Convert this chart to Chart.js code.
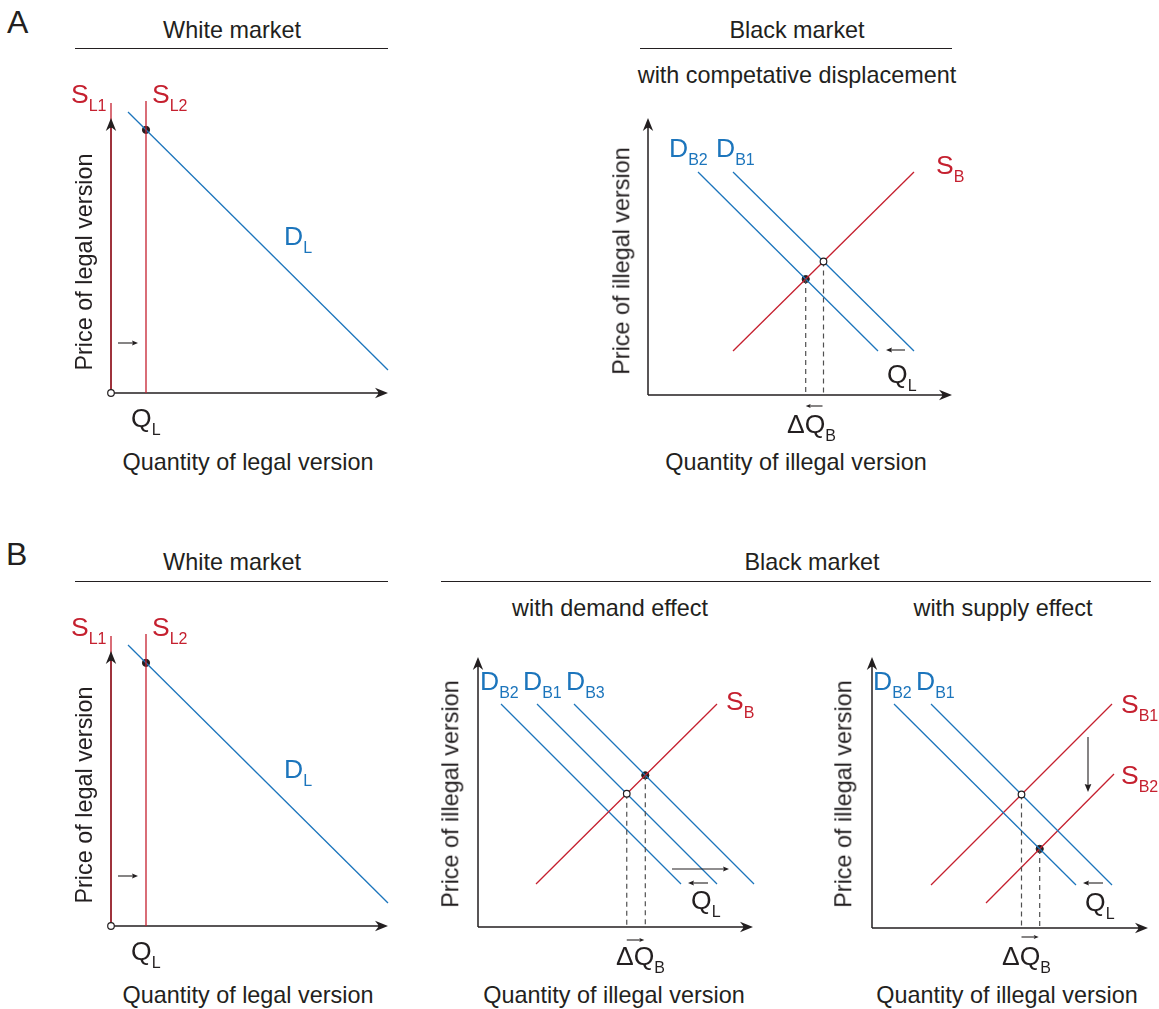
<!DOCTYPE html>
<html><head><meta charset="utf-8">
<script src="https://cdn.jsdelivr.net/npm/chart.js@4.4.1/dist/chart.umd.min.js"></script>
<style>
html,body{margin:0;padding:0;background:#fff;}
body{width:1159px;height:1009px;position:relative;overflow:hidden;font-family:"Liberation Sans",Arial,Helvetica,sans-serif;color:#231f20;}
canvas{position:absolute;z-index:1;}
.t{position:absolute;white-space:nowrap;line-height:1;font-size:23.4px;z-index:2;}
.c{transform:translateX(-50%);}
.rot{transform:translate(-50%,-50%) rotate(-90deg);}
.hr{position:absolute;height:0;border-top:1.4px solid #231f20;z-index:2;}
.lab{position:absolute;white-space:nowrap;line-height:1;font-size:26.5px;z-index:2;}
.lab sub{font-size:16px;vertical-align:-8px;line-height:1;}
.red{color:#c5202f}.blue{color:#1c75bc}
.big{position:absolute;font-size:32px;line-height:1;z-index:2;}
</style></head><body>

<div class="big" style="left:7px;top:6px;">A</div>
<div class="big" style="left:6px;top:538px;">B</div>

<div class="t c" style="left:232px;top:19px;">White market</div>
<div class="hr" style="left:75px;top:48px;width:313px;"></div>
<div class="t c" style="left:797px;top:19px;">Black market</div>
<div class="hr" style="left:640px;top:48px;width:312px;"></div>
<div class="t c" style="left:797px;top:64px;">with competative displacement</div>

<div class="t c" style="left:232px;top:551px;">White market</div>
<div class="hr" style="left:75px;top:581px;width:313px;"></div>
<div class="t c" style="left:812px;top:551px;">Black market</div>
<div class="hr" style="left:441px;top:581px;width:710px;"></div>
<div class="t c" style="left:610px;top:597px;">with demand effect</div>
<div class="t c" style="left:1003px;top:597px;">with supply effect</div>

<div class="t rot" style="left:85px;top:262px;">Price of legal version</div>
<div class="t c" style="left:248px;top:451px;">Quantity of legal version</div>
<div class="t rot" style="left:622px;top:261px;">Price of illegal version</div>
<div class="t c" style="left:796px;top:451px;">Quantity of illegal version</div>
<div class="t rot" style="left:85px;top:795px;">Price of legal version</div>
<div class="t c" style="left:248px;top:984px;">Quantity of legal version</div>
<div class="t rot" style="left:451px;top:794px;">Price of illegal version</div>
<div class="t c" style="left:614px;top:984px;">Quantity of illegal version</div>
<div class="t rot" style="left:844px;top:794px;">Price of illegal version</div>
<div class="t c" style="left:1007px;top:984px;">Quantity of illegal version</div>

<!-- curve labels A -->
<div class="lab red" style="left:71px;top:81px;">S<sub>L1</sub></div>
<div class="lab red" style="left:152px;top:81px;">S<sub>L2</sub></div>
<div class="lab blue" style="left:284px;top:223px;">D<sub>L</sub></div>
<div class="lab" style="left:131px;top:405px;">Q<sub>L</sub></div>
<div class="lab blue" style="left:669px;top:135px;">D<sub>B2</sub></div>
<div class="lab blue" style="left:716px;top:135px;">D<sub>B1</sub></div>
<div class="lab red" style="left:936px;top:152px;">S<sub>B</sub></div>
<div class="lab" style="left:887px;top:361px;">Q<sub>L</sub></div>
<div class="lab" style="left:787px;top:411px;">ΔQ<sub>B</sub></div>
<!-- curve labels B -->
<div class="lab red" style="left:71px;top:614px;">S<sub>L1</sub></div>
<div class="lab red" style="left:152px;top:614px;">S<sub>L2</sub></div>
<div class="lab blue" style="left:284px;top:756px;">D<sub>L</sub></div>
<div class="lab" style="left:131px;top:938px;">Q<sub>L</sub></div>
<div class="lab blue" style="left:480px;top:668px;">D<sub>B2</sub></div>
<div class="lab blue" style="left:523px;top:668px;">D<sub>B1</sub></div>
<div class="lab blue" style="left:566px;top:668px;">D<sub>B3</sub></div>
<div class="lab red" style="left:726px;top:688px;">S<sub>B</sub></div>
<div class="lab" style="left:691px;top:887px;">Q<sub>L</sub></div>
<div class="lab" style="left:616px;top:943px;">ΔQ<sub>B</sub></div>
<div class="lab blue" style="left:873px;top:668px;">D<sub>B2</sub></div>
<div class="lab blue" style="left:916px;top:668px;">D<sub>B1</sub></div>
<div class="lab red" style="left:1121px;top:691px;">S<sub>B1</sub></div>
<div class="lab red" style="left:1121px;top:762px;">S<sub>B2</sub></div>
<div class="lab" style="left:1085px;top:889px;">Q<sub>L</sub></div>
<div class="lab" style="left:1002px;top:943px;">ΔQ<sub>B</sub></div>

<canvas id="aWhite"></canvas>
<canvas id="aBlack"></canvas>
<canvas id="bWhite"></canvas>
<canvas id="bDemand"></canvas>
<canvas id="bSupply"></canvas>

<script>
// ---------- data (quantity, price) ----------
// White market (same in A and B)
const whiteSL1 = [[0, 0], [0, 290]];
const whiteSL2 = [[35, 0], [35, 292]];
const whiteDL = [[17, 281], [277, 23]];
const whiteShift = [[7, 50], [27, 50]];
const whiteAxis = [277, 275];

// A: black market with competitive displacement
const aBlackSB = [[85, 44], [266, 223]];
const aBlackDB1 = [[85, 223], [266, 44]];
const aBlackDB2 = [[50, 223], [230, 44]];
const aBlackQL = [[257, 45], [238, 45]];
const aBlackAxis = [304, 277];

// B: black market with demand effect
const bDemSB = [[58, 43], [239, 223]];
const bDemDB2 = [[23, 223], [203, 43]];
const bDemDB1 = [[59, 223], [239, 43]];
const bDemDB3 = [[96, 223], [276, 43]];
const bDemQLout = [[230, 44], [210, 44]];
const bDemQLin = [[194, 58], [251, 58]];
const bDemAxis = [275, 270];

// B: black market with supply effect
const bSupDB2 = [[22, 224], [204, 43]];
const bSupDB1 = [[59, 224], [240, 43]];
const bSupSB1 = [[59, 43], [240, 224]];
const bSupSB2 = [[114, 25], [242, 154]];
const bSupShift = [[216, 191], [216, 136]];
const bSupQL = [[231, 45], [211, 45]];
const bSupAxis = [276, 271];

// ---------- helpers ----------
const RED = '#c5202f', BLUE = '#1c75bc', INK = '#231f20', DASH = '#505050';
function pts(arr) { return arr.map(([x, y]) => ({x, y})); }
function intersect(a, b) {
  const [p1, p2] = a, [p3, p4] = b;
  const d = (p1[0]-p2[0])*(p3[1]-p4[1]) - (p1[1]-p2[1])*(p3[0]-p4[0]);
  const t = ((p1[0]-p3[0])*(p3[1]-p4[1]) - (p1[1]-p3[1])*(p3[0]-p4[0])) / d;
  return [p1[0] + t*(p2[0]-p1[0]), p1[1] + t*(p2[1]-p1[1])];
}
function lineDs(arr, color, extra) {
  return Object.assign({data: pts(arr), showLine: true, borderColor: color, backgroundColor: color,
    borderWidth: 1.3, pointRadius: 0, fill: false, clip: false, tension: 0}, extra || {});
}
function dotDs(p) {
  return {data: pts([p]), showLine: false, pointRadius: 3.6, pointStyle: 'circle',
    backgroundColor: INK, borderColor: INK,
    pointBackgroundColor: INK, pointBorderColor: INK, pointBorderWidth: 1, clip: false};
}
function dashDs(p) {
  return lineDs([p, [p[0], 0]], DASH, {borderDash: [5, 4], borderWidth: 1.2});
}

function drawArrow(ctx, x1, y1, x2, y2, L, W, notch, lw) {
  const a = Math.atan2(y2 - y1, x2 - x1);
  ctx.beginPath();
  ctx.moveTo(x1, y1);
  ctx.lineTo(x2 - Math.cos(a) * (L - notch), y2 - Math.sin(a) * (L - notch));
  ctx.lineWidth = lw;
  ctx.stroke();
  ctx.save();
  ctx.translate(x2, y2); ctx.rotate(a);
  ctx.beginPath();
  ctx.moveTo(0, 0); ctx.lineTo(-L, -W); ctx.lineTo(-L + notch, 0); ctx.lineTo(-L, W);
  ctx.closePath(); ctx.fill();
  ctx.restore();
}

const decor = {
  id: 'decor',
  beforeDatasetsDraw(chart, args, o) {
    const {ctx, scales: {x, y}} = chart;
    const ox = x.getPixelForValue(0), oy = y.getPixelForValue(0);
    const tx = x.getPixelForValue(o.axis[0]), ty = y.getPixelForValue(o.axis[1]);
    ctx.save();
    ctx.strokeStyle = INK; ctx.lineWidth = 1.5;
    ctx.beginPath();
    ctx.moveTo(ox, oy); ctx.lineTo(tx - 8, oy);
    ctx.moveTo(ox, oy); ctx.lineTo(ox, ty + 8);
    ctx.stroke();
    ctx.restore();
  },
  afterDatasetsDraw(chart, args, o) {
    const {ctx, scales: {x, y}} = chart;
    const ox = x.getPixelForValue(0), oy = y.getPixelForValue(0);
    const tx = x.getPixelForValue(o.axis[0]), ty = y.getPixelForValue(o.axis[1]);
    ctx.save();
    ctx.strokeStyle = INK; ctx.fillStyle = INK;
    drawArrow(ctx, tx - 10, oy, tx, oy, 13, 5.2, 4, 1.5);
    drawArrow(ctx, ox, ty + 10, ox, ty, 13, 5.2, 4, 1.5);
    (o.arrows || []).forEach(a => {
      const s = a.size || 6;
      drawArrow(ctx, x.getPixelForValue(a.pts[0][0]), y.getPixelForValue(a.pts[0][1]),
        x.getPixelForValue(a.pts[1][0]), y.getPixelForValue(a.pts[1][1]), s, s * 0.42, 1, 1.1);
    });
    ctx.restore();
    (o.opens || []).forEach(p => {
      const px = x.getPixelForValue(p[0]), py = y.getPixelForValue(p[1]);
      ctx.save();
      ctx.beginPath(); ctx.arc(px, py, 3.3, 0, Math.PI * 2);
      ctx.fillStyle = '#fff'; ctx.fill();
      ctx.lineWidth = 1.2; ctx.strokeStyle = INK; ctx.stroke();
      ctx.restore();
    });
  }
};

function makePanel(id, origin, xr, yr, datasets, opts) {
  const cv = document.getElementById(id);
  const w = xr[1] - xr[0], h = yr[1] - yr[0];
  cv.width = w; cv.height = h;
  cv.style.width = w + 'px'; cv.style.height = h + 'px';
  cv.style.left = (origin[0] + xr[0]) + 'px';
  cv.style.top = (origin[1] - yr[1]) + 'px';
  return new Chart(cv, {
    type: 'scatter',
    data: {datasets},
    options: {
      responsive: false, animation: false, devicePixelRatio: 1, events: [],
      layout: {padding: 0, autoPadding: false},
      plugins: {legend: {display: false}, tooltip: {enabled: false}, decor: opts},
      scales: {
        x: {type: 'linear', display: false, min: xr[0], max: xr[1]},
        y: {type: 'linear', display: false, min: yr[0], max: yr[1]}
      }
    },
    plugins: [decor]
  });
}

// ---------- white market panels ----------
function whitePanel(id, origin) {
  const eq = intersect(whiteSL2, whiteDL);
  makePanel(id, origin, [-40, 290], [-30, 300], [
    lineDs(whiteSL1, RED),
    lineDs(whiteSL2, RED),
    lineDs(whiteDL, BLUE),
    dotDs(eq)
  ], {axis: whiteAxis, arrows: [{pts: whiteShift}], opens: [[0, 0]]});
}
whitePanel('aWhite', [111, 393]);
whitePanel('bWhite', [111, 926]);

// ---------- A black market ----------
{
  const e1 = intersect(aBlackSB, aBlackDB1);
  const e2 = intersect(aBlackSB, aBlackDB2);
  makePanel('aBlack', [648, 395], [-40, 320], [-30, 290], [
    dashDs(e1), dashDs(e2),
    lineDs(aBlackSB, RED),
    lineDs(aBlackDB1, BLUE),
    lineDs(aBlackDB2, BLUE),
    dotDs(e2)
  ], {axis: aBlackAxis, opens: [e1],
      arrows: [{pts: aBlackQL}, {pts: [[e1[0] - 1, -11], [e2[0], -11]], size: 5}]});
}

// ---------- B demand effect ----------
{
  const e1 = intersect(bDemSB, bDemDB1);
  const e3 = intersect(bDemSB, bDemDB3);
  makePanel('bDemand', [478, 927], [-40, 295], [-30, 285], [
    dashDs(e1), dashDs(e3),
    lineDs(bDemSB, RED),
    lineDs(bDemDB2, BLUE),
    lineDs(bDemDB1, BLUE),
    lineDs(bDemDB3, BLUE),
    dotDs(e3)
  ], {axis: bDemAxis, opens: [e1],
      arrows: [{pts: bDemQLout}, {pts: bDemQLin}, {pts: [[e1[0], -13], [e3[0] - 1, -13]], size: 5}]});
}

// ---------- B supply effect ----------
{
  const e1 = intersect(bSupSB1, bSupDB1);
  const e2 = intersect(bSupSB2, bSupDB2);
  makePanel('bSupply', [872, 928], [-40, 285], [-30, 285], [
    dashDs(e1), dashDs(e2),
    lineDs(bSupDB2, BLUE),
    lineDs(bSupDB1, BLUE),
    lineDs(bSupSB1, RED),
    lineDs(bSupSB2, RED),
    dotDs(e2)
  ], {axis: bSupAxis, opens: [e1],
      arrows: [{pts: bSupShift, size: 8}, {pts: bSupQL}, {pts: [[e1[0], -9], [e2[0] - 1, -9]], size: 5}]});
}
</script>
</body></html>
